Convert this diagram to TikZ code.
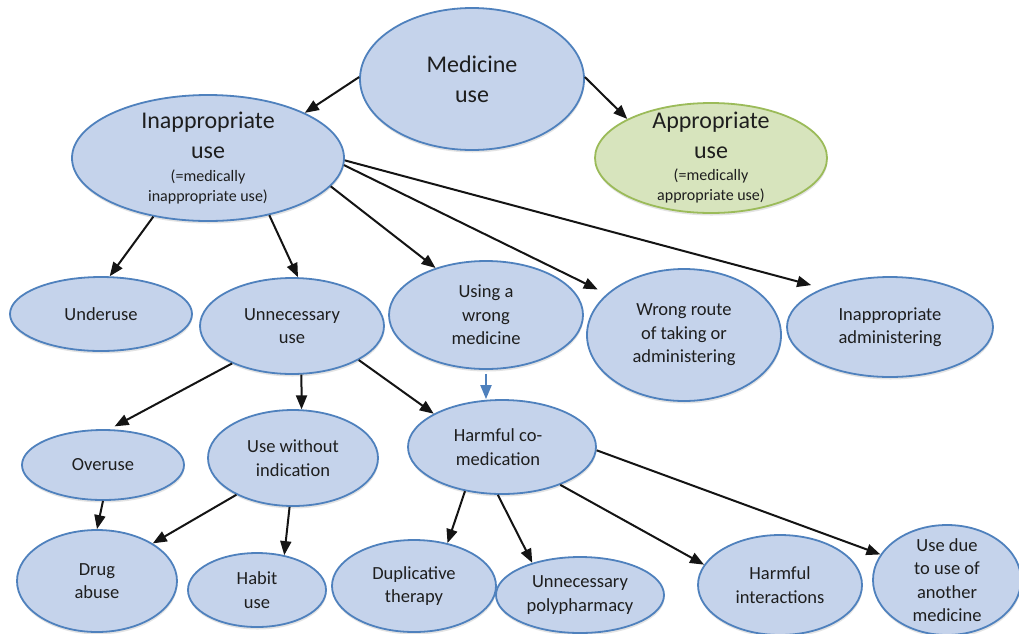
\documentclass[tikz,border=0pt]{standalone}
\usepackage{fontspec}
\setmainfont{Carlito}
\usetikzlibrary{arrows.meta,shapes.geometric,shadows}

\definecolor{nodefill}{RGB}{197,211,235}
\definecolor{nodeline}{RGB}{79,129,189}
\definecolor{greenfill}{RGB}{215,228,189}
\definecolor{greenline}{RGB}{155,187,89}
\definecolor{txt}{RGB}{30,30,30}

\newcommand\bigtxt{\fontsize{24}{30}\selectfont}
\newcommand\midtxt{\fontsize{18.5}{23.5}\selectfont}
\newcommand\smalltxt{\fontsize{16}{20}\selectfont}

\tikzset{
  bubble/.style={ellipse, draw=nodeline, fill=nodefill, line width=1.8pt,
    inner sep=0pt,
    drop shadow={shadow xshift=0.5pt, shadow yshift=-2.5pt, opacity=0.22}},
  greenbubble/.style={bubble, draw=greenline, fill=greenfill},
  sz/.style 2 args={minimum width=#1pt, minimum height=#2pt},
  caption/.style={align=center, text=txt, font=\midtxt, inner sep=0pt},
  link/.style={line width=2pt, draw=black!92,
    -{Triangle[length=14pt,width=11pt]}},
  bluelink/.style={link, draw=nodeline},
}

\begin{document}
\begin{tikzpicture}[x=1pt, y=-1pt]
  \fill[white] (0,0) rectangle (1019,633);
  \useasboundingbox (0,0) rectangle (1019,633);

  % top level
  \node[bubble, sz={224}{142}] (med) at (472,79) {};
  \node[caption, font=\bigtxt] (medtext) at (med) {Medicine\\use};

  \node[bubble, sz={272}{126}] (inap) at (208,158) {};
  \node[caption, font=\bigtxt] (inaptext) at (inap)
    {Inappropriate\\use\\[-7pt]{\smalltxt(=medically}\\[-10pt]{\smalltxt inappropriate use)}};

  \node[greenbubble, sz={232}{110}] (appr) at (711,158) {};
  \node[caption, font=\bigtxt] (apprtext) at (appr)
    {Appropriate\\use\\[-8pt]{\smalltxt(=medically}\\[-10pt]{\smalltxt appropriate use)}};

  % second level
  \node[bubble, sz={182}{74}] (under) at (101,314) {};
  \node[caption] (undertext) at (under) {Underuse};

  \node[bubble, sz={184}{96}] (unnec) at (292,326) {};
  \node[caption] (unnectext) at (unnec) {Unnecessary\\use};

  \node[bubble, sz={194}{108}] (wrong) at (486,315) {};
  \node[caption] (wrongtext) at (wrong) {Using a\\wrong\\medicine};

  \node[bubble, sz={194}{132}] (route) at (684,335) {};
  \node[caption] (routetext) at (route) {Wrong route\\of taking or\\administering};

  \node[bubble, sz={206}{100}] (admin) at (890,327) {};
  \node[caption] (admintext) at (admin) {Inappropriate\\administering};

  % third level
  \node[bubble, sz={162}{70}] (over) at (103,465) {};
  \node[caption] (overtext) at (over) {Overuse};

  \node[bubble, sz={170}{96}] (uwi) at (293,458) {};
  \node[caption] (uwitext) at (uwi) {Use without\\indication};

  \node[bubble, sz={188}{94}] (hcm) at (502,447) {};
  \node[caption] (hcmtext) at (498,447) {Harmful co-\\medication};

  % bottom level
  \node[bubble, sz={160}{102}] (drug) at (97,581) {};
  \node[caption] (drugtext) at (drug) {Drug\\abuse};

  \node[bubble, sz={138}{74}] (habit) at (257,590) {};
  \node[caption] (habittext) at (habit) {Habit\\use};

  \node[bubble, sz={164}{92}] (dup) at (414,586) {};
  \node[caption] (duptext) at (dup) {Duplicative\\therapy};

  \node[bubble, sz={168}{76}] (poly) at (580,595) {};
  \node[caption] (polytext) at (poly) {Unnecessary\\polypharmacy};

  \node[bubble, sz={164}{100}] (hi) at (780,585) {};
  \node[caption] (hitext) at (hi) {Harmful\\interactions};

  \node[bubble, sz={148}{110}] (due) at (947,580) {};
  \node[caption] (duetext) at (due) {Use due\\to use of\\another\\medicine};

  % connectors
  \draw[link] (med.179) -- (inap.25);
  \draw[link] (med.1) -- (appr.155);

  \draw[link] (inap.227) -- (under.77);
  \draw[link] (inap.317) -- (unnec.83);
  \draw[link] (inap.347) -- (wrong.137);
  \draw[link, shorten >=10pt] (inap.357) -- (route.152);
  \draw[link, shorten >=12pt] (inap.359) -- (admin.150);

  \draw[link, shorten >=6pt] (unnec.212) -- (over.80);
  \draw[link] (unnec.281) -- (uwi.80);
  \draw[link] (unnec.333) -- (hcm.154);
  \draw[bluelink, shorten <=4pt] (wrong.south) -- (wrong.south |- hcm.north);

  \draw[link] (over.south) -- (drug.north);
  \draw[link] (uwi.213) -- (drug.34);
  \draw[link] (uwi.266) -- (habit.52);

  \draw[link] (hcm.230) -- (dup.52);
  \draw[link] (hcm.265) -- (poly.146);
  \draw[link] (hcm.327) -- (hi.165);
  \draw[link] (hcm.358) -- (due.159);
\end{tikzpicture}
\end{document}
